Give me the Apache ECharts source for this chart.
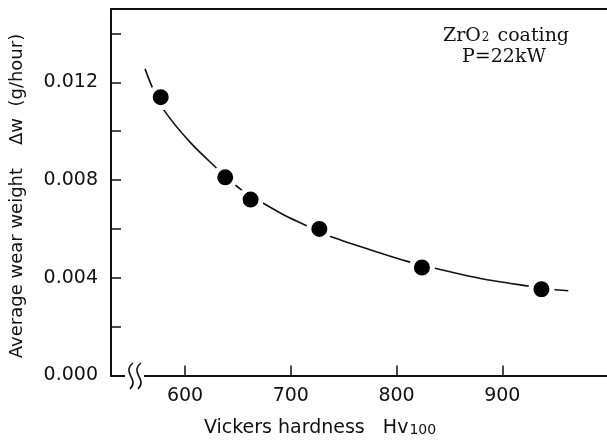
<!DOCTYPE html>
<html>
<head>
<meta charset="utf-8">
<script src="https://cdn.jsdelivr.net/npm/echarts@6/dist/echarts.min.js"></script>
<style>
html,body{margin:0;padding:0;background:#fff;}
#chart{width:607px;height:442px;}
</style>
</head>
<body>
<div id="chart"></div>
<script>
// Measured points: Vickers hardness Hv100 vs average wear weight (g/hour)
var hardness = [577, 638, 662, 727, 824, 937];
var wear = [0.01139, 0.00811, 0.00720, 0.00600, 0.00442, 0.00353];

// Fitted curve
var curveX = [562.2, 569.4, 580.4, 604.7, 630.0, 645.1, 653.6, 674.0, 694.5, 715.1, 737.1, 774.9, 811.1, 834.2, 879.4, 924.6, 945.8, 962.4];
var curveY = [0.01255, 0.01176, 0.01084, 0.00955, 0.00848, 0.00789, 0.00759, 0.00705, 0.00655, 0.00613, 0.00570, 0.00515, 0.00466, 0.00441, 0.00397, 0.00366, 0.00353, 0.00347];

// Tick labels
var xTicks = [600, 700, 800, 900];
var yTicks = [0.002, 0.004, 0.006, 0.008, 0.010, 0.012, 0.014];
var yLabels = [0, 0.004, 0.008, 0.012];

var chart = echarts.init(document.getElementById('chart'), null, {renderer: 'canvas'});

var curveData = curveX.map(function (x, i) { return [x, curveY[i]]; });
var pointData = hardness.map(function (x, i) { return [x, wear[i]]; });

var axisFont = {fontFamily: 'DejaVu Sans', fontSize: 19, color: '#111'};

chart.setOption({
  animation: false,
  backgroundColor: '#fff',
  grid: {left: 111, top: 9, right: 0, bottom: 66.5},
  xAxis: [{
    type: 'value', min: 530, max: 999,
    axisLine: {lineStyle: {color: '#111', width: 2}},
    axisTick: {inside: true, length: 10, customValues: xTicks, lineStyle: {color: '#111', width: 1.5}},
    axisLabel: Object.assign({customValues: xTicks, margin: 11}, axisFont),
    splitLine: {show: false}
  }, {
    type: 'value', min: 530, max: 999, position: 'top',
    axisLine: {show: true, lineStyle: {color: '#111', width: 2}},
    axisTick: {show: false}, axisLabel: {show: false}, splitLine: {show: false}
  }],
  yAxis: {
    type: 'value', min: 0, max: 0.015,
    axisLine: {show: true, lineStyle: {color: '#111', width: 2}},
    axisTick: {show: true, inside: true, length: 10, customValues: yTicks, lineStyle: {color: '#111', width: 1.5}},
    axisLabel: Object.assign({customValues: yLabels, margin: 13, formatter: function (v) { return v.toFixed(3); }}, axisFont),
    splitLine: {show: false}
  },
  series: [{
    type: 'line', data: curveData, smooth: 0.3, symbol: 'none',
    lineStyle: {color: '#111', width: 1.6}, z: 2
  }, {
    type: 'scatter', data: pointData, symbol: 'circle', symbolSize: 21,
    itemStyle: {color: '#000', borderColor: '#fff', borderWidth: 5, opacity: 1}, z: 3
  }],
  graphic: [
    {type: 'rect', shape: {x: 125, y: 371, width: 19, height: 9}, style: {fill: '#fff'}, z: 100},
    {type: 'bezierCurve', shape: {x1: 133, y1: 363, cpx1: 121, cpy1: 373, cpx2: 140, cpy2: 379, x2: 130, y2: 389}, style: {stroke: '#111', lineWidth: 1.6, fill: null}, z: 101},
    {type: 'bezierCurve', shape: {x1: 141, y1: 363, cpx1: 129, cpy1: 373, cpx2: 148, cpy2: 379, x2: 138, y2: 389}, style: {stroke: '#111', lineWidth: 1.6, fill: null}, z: 101},
    {type: 'text', x: 17, y: 196, rotation: Math.PI / 2,
      style: {text: 'Average wear weight    \u0394w  (g/hour)', fontFamily: 'DejaVu Sans', fontSize: 18, fill: '#111', textAlign: 'center', textVerticalAlign: 'middle'}, z: 100},
    {type: 'text', x: 320, y: 428,
      style: {
        text: '{m|Vickers hardness   Hv}{s|100}',
        textAlign: 'center', textVerticalAlign: 'middle',
        rich: {
          m: {fontFamily: 'DejaVu Sans', fontSize: 19, fill: '#111', color: '#111'},
          s: {fontFamily: 'DejaVu Sans', fontSize: 14, fill: '#111', color: '#111', padding: [5, 0, 0, 1]}
        }
      }, z: 100},
    {type: 'text', x: 506, y: 36,
      style: {
        text: '{m|ZrO}{s|2}{m| coating}',
        textAlign: 'center', textVerticalAlign: 'middle',
        rich: {
          m: {fontFamily: 'DejaVu Serif', fontSize: 19, fill: '#111', color: '#111'},
          s: {fontFamily: 'DejaVu Serif', fontSize: 12, fill: '#111', color: '#111', padding: [4, 2, 0, 1]}
        }
      }, z: 100},
    {type: 'text', x: 504, y: 57,
      style: {text: 'P=22kW', fontFamily: 'DejaVu Serif', fontSize: 19, fill: '#111', textAlign: 'center', textVerticalAlign: 'middle'}, z: 100}
  ]
});
</script>
</body>
</html>
